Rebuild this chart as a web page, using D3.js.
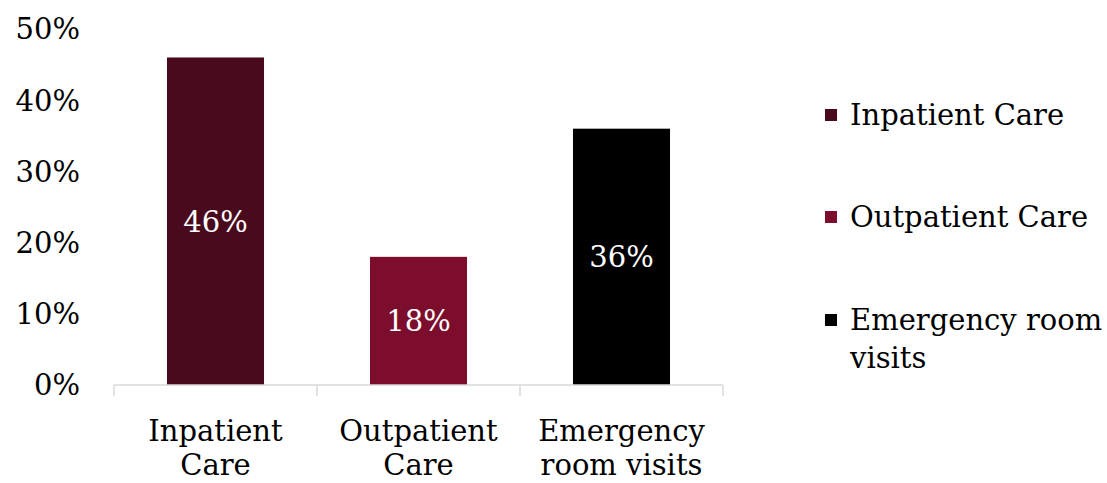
<!DOCTYPE html>
<html>
<head>
<meta charset="utf-8">
<script src="https://cdn.jsdelivr.net/npm/d3@7"></script>
<style>
  html, body { margin: 0; padding: 0; background: #fff; }
  svg { display: block; }
  text { font-family: "DejaVu Serif", serif; }
</style>
</head>
<body>
<svg id="chart" width="1107" height="483"></svg>
<script>
// Share of spending by type of care
const categories = ["Inpatient Care", "Outpatient Care", "Emergency room visits"];
const axisLabels = [["Inpatient", "Care"], ["Outpatient", "Care"], ["Emergency", "room visits"]];
const values = [0.46, 0.18, 0.36];
const colors = ["#4a0a1e", "#7c0d2c", "#000000"];
const yTicks = [0, 0.1, 0.2, 0.3, 0.4, 0.5];
const legendLines = [["Inpatient Care"], ["Outpatient Care"], ["Emergency room", "visits"]];

const svg = d3.select("#chart");
const fontSize = 29;

const x = d3.scaleBand().domain(categories).range([114, 723]).paddingInner(0.522).paddingOuter(0.261);
const y = d3.scaleLinear().domain([0, 0.5]).range([385, 29]);
const fmt = d3.format(".0%");

// y-axis labels only (no axis line, no gridlines)
svg.append("g").selectAll("text")
  .data(yTicks).join("text")
  .attr("x", 80)
  .attr("y", d => y(d))
  .attr("dy", "0.36em")
  .attr("text-anchor", "end")
  .attr("font-size", fontSize)
  .attr("fill", "#000")
  .text(d => fmt(d));

// bars
svg.append("g").selectAll("rect")
  .data(values).join("rect")
  .attr("x", (d, i) => x(categories[i]))
  .attr("width", x.bandwidth())
  .attr("y", d => y(d))
  .attr("height", d => y(0) - y(d))
  .attr("fill", (d, i) => colors[i]);

// value labels inside bars
svg.append("g").selectAll("text")
  .data(values).join("text")
  .attr("x", (d, i) => x(categories[i]) + x.bandwidth() / 2)
  .attr("y", d => (y(d) + y(0)) / 2)
  .attr("dy", "0.36em")
  .attr("text-anchor", "middle")
  .attr("font-size", fontSize)
  .attr("fill", "#fff")
  .text(d => fmt(d));

// x axis: baseline with boundary ticks between categories
const xAxisG = svg.append("g").attr("stroke", "#d9d9d9").attr("stroke-width", 1.5);
xAxisG.append("line")
  .attr("x1", x.range()[0]).attr("x2", x.range()[1])
  .attr("y1", y(0)).attr("y2", y(0));
const step = x.step();
d3.range(categories.length + 1).forEach(i => {
  const bx = x.range()[0] + i * step;
  xAxisG.append("line")
    .attr("x1", bx).attr("x2", bx)
    .attr("y1", y(0)).attr("y2", y(0) + 11);
});

// category labels, two lines each
const catG = svg.append("g");
axisLabels.forEach((lines, i) => {
  const cx = x(categories[i]) + x.bandwidth() / 2;
  const t = catG.append("text")
    .attr("text-anchor", "middle")
    .attr("font-size", fontSize)
    .attr("fill", "#000");
  lines.forEach((ln, j) => {
    t.append("tspan").attr("x", cx).attr("y", 431 + j * 34).attr("dy", "0.36em").text(ln);
  });
});

// legend
const legendY = [115, 217, 320];
const legG = svg.append("g");
legendLines.forEach((lines, i) => {
  legG.append("rect")
    .attr("x", 825).attr("y", legendY[i] - 6)
    .attr("width", 12).attr("height", 12)
    .attr("fill", colors[i]);
  const t = legG.append("text")
    .attr("font-size", fontSize)
    .attr("fill", "#000");
  lines.forEach((ln, j) => {
    t.append("tspan").attr("x", 850).attr("y", legendY[i] + j * 38).attr("dy", "0.36em").text(ln);
  });
});
</script>
</body>
</html>
